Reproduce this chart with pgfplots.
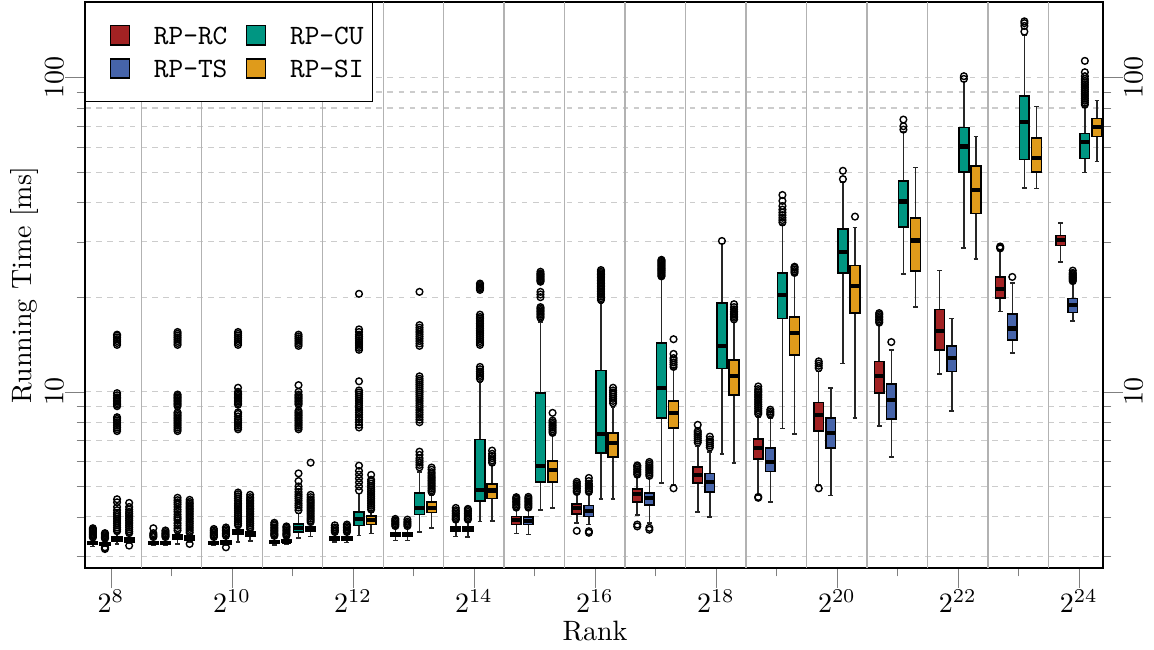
\documentclass[border=0pt]{standalone}
\usepackage{pgfplots}
\pgfplotsset{compat=1.18}
\usepgfplotslibrary{statistics}

\definecolor{kitred}{RGB}{162,34,35}
\definecolor{kitblue}{RGB}{70,100,170}
\definecolor{kitgreen}{RGB}{0,150,130}
\definecolor{kitorange}{RGB}{223,155,27}

\pgfplotsset{
  bpstyle/.style={solid, draw=black, line width=0.55pt,
    mark=o, mark size=1.2pt, mark options={line width=0.5pt, solid},
    boxplot/draw direction=y,
    boxplot/box extend=0.16, boxplot/whisker extend=0.08,
    boxplot/every median/.style={line width=1.5pt},
    boxplot/every whisker/.style={draw=black!85}},
}
% position, colour, lower whisker, q1, median, q3, upper whisker, outliers
\newcommand{\bp}[8]{%
  \addplot[bpstyle, boxplot prepared={draw position=#1,
      lower whisker=#3, lower quartile=#4, median=#5,
      upper quartile=#6, upper whisker=#7,
      every box/.style={fill=#2, draw=black}}]
    coordinates {#8};}
\newcommand{\legbox}[1]{%
  \addlegendimage{legend image code/.code={\path (-5.37pt,0pt);
      \draw[fill=#1, draw=black, line width=0.5pt] (0pt,-3.4pt) rectangle (6.8pt,3.4pt);}}}

\begin{document}
\begin{tikzpicture}
\begin{axis}[
  name=ax,
  width=363.57pt, height=202.14pt, scale only axis,
  xmin=7.57, xmax=24.4,
  ymode=log, ymin=2.75, ymax=174,
  xtick={8,10,...,24},
  xticklabels={$2^{8}$,$2^{10}$,$2^{12}$,$2^{14}$,$2^{16}$,$2^{18}$,$2^{20}$,$2^{22}$,$2^{24}$},
  minor xtick={9,11,...,23},
  extra x ticks={8.5,9.5,...,23.5},
  extra x tick labels={},
  extra x tick style={grid=major, major grid style={solid, black!30, line width=0.5pt}, tick style={draw=none}},
  ytick={10,100}, yticklabels={$10$,$100$},
  minor ytick={3,4,5,6,7,8,9,20,30,40,50,60,70,80,90},
  ymajorgrids, yminorgrids,
  grid style={dash pattern=on 2pt off 2pt, black!20},
  tick align=outside,
  major tick length=7pt, minor tick length=3pt,
  xtick pos=left, ytick pos=left,
  xticklabel style={inner sep=0.5pt},
  yticklabel style={rotate=90, anchor=south, inner sep=0.5pt},
  xlabel={Rank}, ylabel={Running Time [ms]},
  every axis x label/.style={at={(axis description cs:0.501,-0.111)}, anchor=center},
  every axis y label/.style={at={(axis description cs:-0.0599,0.5)}, rotate=90, anchor=center},
  legend columns=2, legend cell align=left,
  legend style={at={(0,1)}, anchor=north west, draw=black, line width=0.5pt, fill=white,
    inner xsep=3.2pt, inner ysep=8pt, font=\ttfamily, row sep=4.6pt,
    nodes={inner sep=0pt, text depth=0pt},
    /tikz/every odd column/.append style={column sep=8.5pt},
    /tikz/every even column/.append style={column sep=1.2pt}},
]
\legbox{kitred}\addlegendentry{RP-RC}
\legbox{kitgreen}\addlegendentry{RP-CU}
\legbox{kitblue}\addlegendentry{RP-TS}
\legbox{kitorange}\addlegendentry{RP-SI}

% 2^8
\bp{7.7}{kitred}{3.22}{3.27}{3.30}{3.33}{3.41}{(0,3.44)(0,3.47)(0,3.50)(0,3.53)(0,3.56)(0,3.59)(0,3.62)(0,3.65)(0,3.68)}
\bp{7.9}{kitblue}{3.22}{3.26}{3.28}{3.31}{3.38}{(0,3.16)(0,3.18)(0,3.20)(0,3.41)(0,3.44)(0,3.47)(0,3.50)(0,3.53)(0,3.55)}
\bp{8.1}{kitgreen}{3.28}{3.35}{3.40}{3.46}{3.55}{(0,3.60)(0,3.65)(0,3.70)(0,3.76)(0,3.82)(0,3.88)(0,3.94)(0,4.00)(0,4.06)(0,4.12)(0,4.20)(0,4.30)(0,4.45)(0,4.55)(0,7.5)(0,7.6)(0,7.7)(0,7.8)(0,7.9)(0,8.0)(0,8.1)(0,8.2)(0,8.3)(0,9.0)(0,9.1)(0,9.2)(0,9.3)(0,9.4)(0,9.5)(0,9.6)(0,9.75)(0,9.9)(0,14.1)(0,14.3)(0,14.5)(0,14.7)(0,14.9)(0,15.1)(0,15.2)}
\bp{8.3}{kitorange}{3.29}{3.32}{3.37}{3.42}{3.50}{(0,3.24)(0,3.55)(0,3.60)(0,3.65)(0,3.70)(0,3.75)(0,3.80)(0,3.85)(0,3.90)(0,3.95)(0,4.00)(0,4.05)(0,4.10)(0,4.15)(0,4.22)(0,4.30)(0,4.43)}
% 2^9
\bp{8.7}{kitred}{3.24}{3.27}{3.30}{3.33}{3.42}{(0,3.45)(0,3.48)(0,3.51)(0,3.55)(0,3.68)}
\bp{8.9}{kitblue}{3.24}{3.27}{3.30}{3.33}{3.42}{(0,3.45)(0,3.48)(0,3.51)(0,3.54)(0,3.58)(0,3.62)}
\bp{9.1}{kitgreen}{3.28}{3.40}{3.45}{3.51}{3.56}{(0,3.62)(0,3.68)(0,3.75)(0,3.82)(0,3.90)(0,3.95)(0,4.00)(0,4.07)(0,4.15)(0,4.22)(0,4.30)(0,4.38)(0,4.45)(0,4.52)(0,4.60)(0,7.5)(0,7.6)(0,7.7)(0,7.8)(0,7.9)(0,8.0)(0,8.1)(0,8.2)(0,8.3)(0,8.4)(0,8.5)(0,8.6)(0,9.0)(0,9.1)(0,9.2)(0,9.3)(0,9.4)(0,9.5)(0,9.6)(0,9.7)(0,9.8)(0,14.1)(0,14.3)(0,14.5)(0,14.7)(0,14.9)(0,15.1)(0,15.3)(0,15.5)}
\bp{9.3}{kitorange}{3.33}{3.38}{3.42}{3.47}{3.52}{(0,3.28)(0,3.56)(0,3.61)(0,3.66)(0,3.71)(0,3.76)(0,3.81)(0,3.86)(0,3.91)(0,3.96)(0,4.01)(0,4.06)(0,4.11)(0,4.16)(0,4.21)(0,4.26)(0,4.31)(0,4.36)(0,4.41)(0,4.46)(0,4.53)}
% 2^10
\bp{9.7}{kitred}{3.25}{3.28}{3.31}{3.34}{3.42}{(0,3.45)(0,3.48)(0,3.51)(0,3.55)(0,3.58)(0,3.62)(0,3.66)}
\bp{9.9}{kitblue}{3.25}{3.28}{3.32}{3.36}{3.45}{(0,3.20)(0,3.48)(0,3.51)(0,3.54)(0,3.58)(0,3.62)(0,3.66)(0,3.70)}
\bp{10.1}{kitgreen}{3.33}{3.51}{3.58}{3.64}{3.70}{(0,3.76)(0,3.81)(0,3.86)(0,3.91)(0,3.96)(0,4.01)(0,4.06)(0,4.12)(0,4.18)(0,4.24)(0,4.30)(0,4.36)(0,4.42)(0,4.50)(0,4.58)(0,4.65)(0,4.72)(0,4.78)(0,7.6)(0,7.7)(0,7.8)(0,7.9)(0,8.0)(0,8.1)(0,8.2)(0,8.35)(0,8.5)(0,8.6)(0,9.1)(0,9.2)(0,9.3)(0,9.4)(0,9.5)(0,9.6)(0,9.7)(0,9.8)(0,9.9)(0,10.0)(0,10.3)(0,14.1)(0,14.3)(0,14.5)(0,14.7)(0,14.9)(0,15.1)(0,15.3)(0,15.5)}
\bp{10.3}{kitorange}{3.35}{3.48}{3.53}{3.58}{3.62}{(0,3.66)(0,3.71)(0,3.76)(0,3.81)(0,3.86)(0,3.91)(0,3.96)(0,4.01)(0,4.06)(0,4.11)(0,4.16)(0,4.21)(0,4.26)(0,4.31)(0,4.36)(0,4.41)(0,4.46)(0,4.51)(0,4.56)(0,4.62)(0,4.70)}
% 2^11
\bp{10.7}{kitred}{3.26}{3.30}{3.33}{3.36}{3.45}{(0,3.48)(0,3.51)(0,3.54)(0,3.58)(0,3.62)(0,3.66)(0,3.70)(0,3.75)(0,3.79)(0,3.83)}
\bp{10.9}{kitblue}{3.27}{3.31}{3.34}{3.37}{3.45}{(0,3.48)(0,3.51)(0,3.54)(0,3.58)(0,3.62)(0,3.66)(0,3.70)(0,3.73)}
\bp{11.1}{kitgreen}{3.43}{3.58}{3.69}{3.80}{4.10}{(0,4.20)(0,4.28)(0,4.35)(0,4.42)(0,4.50)(0,4.58)(0,4.65)(0,4.72)(0,4.80)(0,4.90)(0,5.00)(0,5.20)(0,5.50)(0,7.6)(0,7.7)(0,7.8)(0,7.9)(0,8.0)(0,8.1)(0,8.2)(0,8.3)(0,8.4)(0,8.5)(0,8.6)(0,8.7)(0,9.1)(0,9.2)(0,9.3)(0,9.4)(0,9.5)(0,9.6)(0,9.7)(0,9.8)(0,10.0)(0,10.5)(0,14.0)(0,14.2)(0,14.4)(0,14.6)(0,14.8)(0,15.0)(0,15.2)}
\bp{11.3}{kitorange}{3.46}{3.61}{3.67}{3.73}{3.80}{(0,3.85)(0,3.90)(0,3.95)(0,4.00)(0,4.05)(0,4.10)(0,4.15)(0,4.20)(0,4.25)(0,4.30)(0,4.35)(0,4.40)(0,4.45)(0,4.50)(0,4.55)(0,4.62)(0,4.70)(0,5.95)}
% 2^12
\bp{11.7}{kitred}{3.33}{3.38}{3.42}{3.46}{3.55}{(0,3.58)(0,3.62)(0,3.66)(0,3.70)(0,3.76)}
\bp{11.9}{kitblue}{3.32}{3.38}{3.42}{3.46}{3.55}{(0,3.58)(0,3.62)(0,3.66)(0,3.70)(0,3.74)(0,3.78)}
\bp{12.1}{kitgreen}{3.49}{3.76}{3.94}{4.14}{4.75}{(0,4.85)(0,5.00)(0,5.15)(0,5.30)(0,5.45)(0,5.60)(0,5.82)(0,7.7)(0,7.85)(0,8.0)(0,8.15)(0,8.3)(0,8.45)(0,8.6)(0,8.75)(0,8.9)(0,9.05)(0,9.2)(0,9.35)(0,9.5)(0,9.65)(0,9.8)(0,9.95)(0,10.1)(0,10.8)(0,13.6)(0,13.8)(0,14.0)(0,14.2)(0,14.4)(0,14.6)(0,14.8)(0,15.0)(0,15.2)(0,15.5)(0,15.8)(0,20.5)}
\bp{12.3}{kitorange}{3.54}{3.78}{3.91}{4.02}{4.15}{(0,4.22)(0,4.28)(0,4.34)(0,4.40)(0,4.46)(0,4.52)(0,4.58)(0,4.64)(0,4.70)(0,4.76)(0,4.82)(0,4.88)(0,4.95)(0,5.02)(0,5.10)(0,5.18)(0,5.25)(0,5.44)}
% 2^13
\bp{12.7}{kitred}{3.36}{3.46}{3.50}{3.55}{3.69}{(0,3.74)(0,3.78)(0,3.82)(0,3.86)(0,3.90)(0,3.94)}
\bp{12.9}{kitblue}{3.36}{3.46}{3.50}{3.55}{3.70}{(0,3.74)(0,3.78)(0,3.82)(0,3.86)(0,3.92)}
\bp{13.1}{kitgreen}{3.58}{4.07}{4.27}{4.77}{5.55}{(0,5.75)(0,5.85)(0,5.95)(0,6.05)(0,6.15)(0,6.30)(0,6.45)(0,8.0)(0,8.15)(0,8.3)(0,8.45)(0,8.6)(0,8.75)(0,8.9)(0,9.05)(0,9.2)(0,9.35)(0,9.5)(0,9.65)(0,9.8)(0,9.95)(0,10.1)(0,10.25)(0,10.4)(0,10.55)(0,10.7)(0,10.85)(0,11.0)(0,11.2)(0,14.0)(0,14.25)(0,14.5)(0,14.75)(0,15.0)(0,15.25)(0,15.5)(0,15.75)(0,16.0)(0,16.3)(0,20.8)}
\bp{13.3}{kitorange}{3.69}{4.13}{4.27}{4.46}{4.70}{(0,4.80)(0,4.86)(0,4.92)(0,4.98)(0,5.04)(0,5.10)(0,5.16)(0,5.22)(0,5.28)(0,5.34)(0,5.40)(0,5.48)(0,5.55)(0,5.65)(0,5.74)}
% 2^14
\bp{13.7}{kitred}{3.46}{3.61}{3.69}{3.73}{3.86}{(0,3.92)(0,3.96)(0,4.00)(0,4.05)(0,4.10)(0,4.15)(0,4.20)(0,4.27)}
\bp{13.9}{kitblue}{3.45}{3.61}{3.68}{3.73}{3.86}{(0,3.92)(0,3.96)(0,4.00)(0,4.05)(0,4.10)(0,4.15)(0,4.20)(0,4.24)}
\bp{14.1}{kitgreen}{3.86}{4.50}{4.88}{7.04}{10.7}{(0,11.0)(0,11.15)(0,11.3)(0,11.45)(0,11.6)(0,11.8)(0,12.0)(0,14.1)(0,14.3)(0,14.5)(0,14.7)(0,14.9)(0,15.1)(0,15.3)(0,15.5)(0,15.7)(0,15.9)(0,16.1)(0,16.3)(0,16.5)(0,16.7)(0,16.9)(0,17.1)(0,17.3)(0,17.6)(0,21.1)(0,21.3)(0,21.5)(0,21.7)(0,21.9)(0,22.1)}
\bp{14.3}{kitorange}{3.88}{4.57}{4.85}{5.09}{5.85}{(0,5.95)(0,6.05)(0,6.15)(0,6.25)(0,6.35)(0,6.50)}
% 2^15
\bp{14.7}{kitred}{3.54}{3.78}{3.91}{4.01}{4.22}{(0,4.28)(0,4.33)(0,4.38)(0,4.43)(0,4.48)(0,4.53)(0,4.58)(0,4.62)}
\bp{14.9}{kitblue}{3.51}{3.78}{3.89}{3.99}{4.22}{(0,4.28)(0,4.33)(0,4.38)(0,4.43)(0,4.48)(0,4.53)(0,4.58)(0,4.63)}
\bp{15.1}{kitgreen}{4.21}{5.17}{5.81}{9.93}{16.7}{(0,17.2)(0,17.4)(0,17.6)(0,17.8)(0,18.0)(0,18.2)(0,18.4)(0,18.6)(0,20.0)(0,20.4)(0,20.8)(0,22.4)(0,22.6)(0,22.8)(0,23.0)(0,23.2)(0,23.4)(0,23.6)(0,23.8)(0,24.1)}
\bp{15.3}{kitorange}{4.27}{5.17}{5.65}{6.03}{7.3}{(0,7.4)(0,7.5)(0,7.6)(0,7.7)(0,7.8)(0,7.9)(0,8.0)(0,8.1)(0,8.57)}
% 2^16
\bp{15.7}{kitred}{3.83}{4.09}{4.27}{4.40}{4.75}{(0,3.61)(0,4.80)(0,4.86)(0,4.92)(0,4.98)(0,5.04)(0,5.10)(0,5.17)}
\bp{15.9}{kitblue}{3.78}{4.01}{4.18}{4.34}{4.72}{(0,3.56)(0,3.60)(0,4.80)(0,4.86)(0,4.92)(0,4.98)(0,5.04)(0,5.10)(0,5.20)(0,5.32)}
\bp{16.1}{kitgreen}{4.56}{6.39}{7.35}{11.7}{19.2}{(0,19.6)(0,19.85)(0,20.1)(0,20.35)(0,20.6)(0,20.85)(0,21.1)(0,21.35)(0,21.6)(0,21.85)(0,22.1)(0,22.35)(0,22.6)(0,22.85)(0,23.1)(0,23.35)(0,23.6)(0,23.85)(0,24.1)(0,24.4)}
\bp{16.3}{kitorange}{4.56}{6.20}{6.88}{7.40}{8.95}{(0,9.2)(0,9.35)(0,9.5)(0,9.65)(0,9.8)(0,9.95)(0,10.1)(0,10.3)}
% 2^17
\bp{16.7}{kitred}{4.06}{4.46}{4.74}{4.90}{5.36}{(0,3.73)(0,3.78)(0,5.45)(0,5.52)(0,5.59)(0,5.66)(0,5.73)(0,5.80)(0,5.83)}
\bp{16.9}{kitblue}{3.83}{4.36}{4.60}{4.77}{5.30}{(0,3.64)(0,3.69)(0,5.40)(0,5.47)(0,5.54)(0,5.61)(0,5.68)(0,5.75)(0,5.82)(0,5.90)(0,5.98)}
\bp{17.1}{kitgreen}{5.13}{8.26}{10.3}{14.3}{23.0}{(0,23.3)(0,23.5)(0,23.7)(0,23.9)(0,24.1)(0,24.3)(0,24.5)(0,24.7)(0,24.9)(0,25.1)(0,25.3)(0,25.5)(0,25.7)(0,25.9)(0,26.1)(0,26.3)}
\bp{17.3}{kitorange}{5.05}{7.68}{8.57}{9.36}{11.9}{(0,4.93)(0,12.0)(0,12.2)(0,12.4)(0,12.6)(0,12.8)(0,13.2)(0,14.7)}
% 2^18
\bp{17.7}{kitred}{4.15}{5.13}{5.44}{5.77}{6.69}{(0,6.9)(0,7.0)(0,7.1)(0,7.2)(0,7.3)(0,7.4)(0,7.5)(0,7.85)}
\bp{17.9}{kitblue}{3.99}{4.80}{5.17}{5.49}{6.44}{(0,6.65)(0,6.75)(0,6.85)(0,6.95)(0,7.05)(0,7.2)}
\bp{18.1}{kitgreen}{6.35}{11.85}{14.0}{19.2}{29.6}{(0,30.2)}
\bp{18.3}{kitorange}{5.94}{9.78}{11.2}{12.6}{16.6}{(0,17.0)(0,17.2)(0,17.4)(0,17.6)(0,17.8)(0,18.0)(0,18.3)(0,18.6)(0,19.0)}
% 2^19
\bp{18.7}{kitred}{4.70}{6.12}{6.63}{7.08}{8.32}{(0,4.60)(0,4.63)(0,8.5)(0,8.62)(0,8.74)(0,8.86)(0,8.98)(0,9.1)(0,9.22)(0,9.34)(0,9.46)(0,9.58)(0,9.7)(0,9.82)(0,9.94)(0,10.06)(0,10.2)(0,10.4)}
\bp{18.9}{kitblue}{4.46}{5.57}{5.98}{6.63}{8.26}{(0,8.45)(0,8.55)(0,8.65)(0,8.77)}
\bp{19.1}{kitgreen}{7.63}{17.1}{20.3}{23.9}{34.0}{(0,34.6)(0,35.2)(0,35.8)(0,36.5)(0,37.2)(0,38.0)(0,39.0)(0,40.5)(0,42.3)}
\bp{19.3}{kitorange}{7.35}{13.1}{15.4}{17.3}{23.6}{(0,23.9)(0,24.2)(0,24.5)(0,24.8)(0,25.0)}
% 2^20
\bp{19.7}{kitred}{5.05}{7.51}{8.45}{9.23}{11.6}{(0,4.93)(0,11.9)(0,12.1)(0,12.3)(0,12.5)}
\bp{19.9}{kitblue}{4.67}{6.63}{7.40}{8.26}{10.3}{}
\bp{20.1}{kitgreen}{12.3}{23.9}{27.9}{33.0}{46.6}{(0,47.5)(0,50.5)}
\bp{20.3}{kitorange}{8.26}{17.8}{21.7}{25.2}{33.3}{(0,36.1)}
% 2^21
\bp{20.7}{kitred}{7.79}{9.93}{11.2}{12.5}{16.4}{(0,16.6)(0,16.8)(0,17.0)(0,17.2)(0,17.4)(0,17.6)(0,17.8)}
\bp{20.9}{kitblue}{6.2}{8.2}{9.43}{10.6}{13.6}{(0,14.4)}
\bp{21.1}{kitgreen}{23.7}{33.5}{40.3}{46.9}{67.2}{(0,68.3)(0,70.0)(0,73.5)}
\bp{21.3}{kitorange}{18.6}{24.2}{30.3}{35.8}{51.7}{}
% 2^22
\bp{21.7}{kitred}{11.4}{13.6}{15.6}{18.3}{24.3}{}
\bp{21.9}{kitblue}{8.7}{11.6}{12.8}{14.0}{17.1}{}
\bp{22.1}{kitgreen}{28.7}{50.1}{60.3}{69.3}{97.0}{(0,99.0)(0,101.0)}
\bp{22.3}{kitorange}{26.5}{36.9}{44.0}{52.4}{65.0}{}
% 2^23
\bp{22.7}{kitred}{18.0}{19.9}{21.3}{23.2}{28.3}{(0,28.6)(0,28.8)(0,29.0)}
\bp{22.9}{kitblue}{13.3}{14.6}{15.9}{17.7}{22.2}{(0,23.2)}
\bp{23.1}{kitgreen}{44.6}{54.8}{72.4}{87.5}{136}{(0,140)(0,146)(0,149)(0,151)}
\bp{23.3}{kitorange}{44.3}{50.1}{55.6}{64.3}{81.0}{}
% 2^24
\bp{23.7}{kitred}{25.9}{29.2}{30.5}{31.4}{34.5}{}
\bp{23.9}{kitblue}{16.8}{17.9}{18.9}{19.8}{22.2}{(0,22.5)(0,22.7)(0,22.9)(0,23.1)(0,23.3)(0,23.5)(0,23.7)(0,23.9)(0,24.3)}
\bp{24.1}{kitgreen}{49.8}{55.2}{62.2}{66.3}{80.5}{(0,82)(0,83.2)(0,84.4)(0,85.6)(0,86.8)(0,88)(0,89.2)(0,90.4)(0,91.6)(0,92.8)(0,94)(0,95.2)(0,96.4)(0,97.6)(0,99)(0,101)(0,104)(0,113)}
\bp{24.3}{kitorange}{54.0}{64.9}{69.8}{74.0}{84.4}{}
\end{axis}

\begin{axis}[
  width=363.57pt, height=202.14pt, scale only axis,
  xmin=7.57, xmax=24.4,
  ymode=log, ymin=2.75, ymax=174,
  hide x axis,
  ytick={10,100}, yticklabels={$10$,$100$},
  minor ytick={3,4,5,6,7,8,9,20,30,40,50,60,70,80,90},
  tick align=outside,
  major tick length=7pt, minor tick length=3pt,
  ytick pos=right, yticklabel pos=right,
  yticklabel style={rotate=90, anchor=north, inner sep=0.5pt},
]
\end{axis}
\pgfresetboundingbox
\path ([shift={(-30.36pt,-29.29pt)}]ax.south west) rectangle ([shift={(18.21pt,0.71pt)}]ax.north east);
\end{tikzpicture}
\end{document}
